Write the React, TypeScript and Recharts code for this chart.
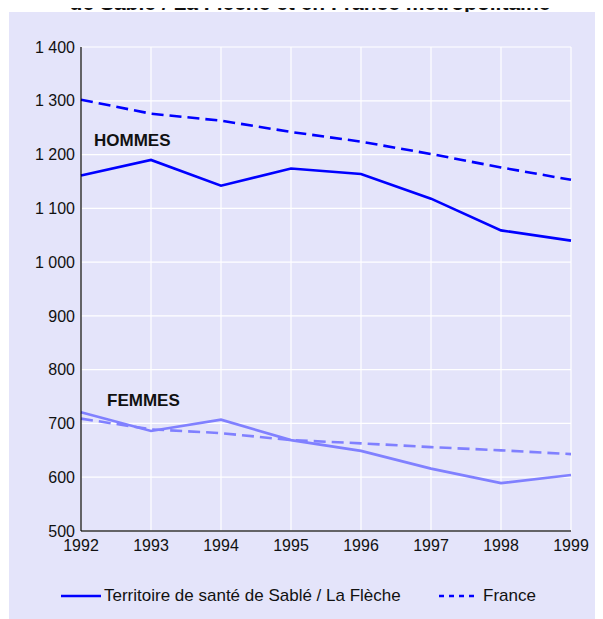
import React from 'react';
import { LineChart, Line, XAxis, YAxis, CartesianGrid, Legend } from 'recharts';

const years = ['1992', '1993', '1994', '1995', '1996', '1997', '1998', '1999'];
const hommesSable = [1161, 1190, 1142, 1174, 1164, 1118, 1059, 1040];
const hommesFrance = [1302, 1276, 1263, 1242, 1224, 1201, 1176, 1153];
const femmesSable = [721, 686, 707, 669, 649, 616, 589, 604];
const femmesFrance = [709, 689, 682, 669, 663, 656, 650, 643];
const yTicks = [500, 600, 700, 800, 900, 1000, 1100, 1200, 1300, 1400];
const legendLabels = ['Territoire de santé de Sablé / La Flèche', 'France'];
const titleText = 'de Sablé / La Flèche et en France métropolitaine';

const data = years.map((y, i) => ({
  year: y,
  hs: hommesSable[i],
  hf: hommesFrance[i],
  fs: femmesSable[i],
  ff: femmesFrance[i],
}));

const FONT = '"Liberation Sans", Arial, sans-serif';
const BLUE = '#0000FF';
const LIGHT = '#8080FF';

const fmt = (v: number) => {
  if (v >= 1000) {
    return `${Math.floor(v / 1000)} ${String(v % 1000).padStart(3, '0')}`;
  }
  return String(v);
};

const LegendContent = () => (
  <div style={{ position: 'relative', height: 20, width: 595, fontFamily: FONT, fontSize: 17, color: '#111' }}>
    <svg style={{ position: 'absolute', left: 53, top: 8 }} width={40} height={4}>
      <line x1={0} y1={2} x2={40} y2={2} stroke={BLUE} strokeWidth={2.5} />
    </svg>
    <span style={{ position: 'absolute', left: 96, top: 0, lineHeight: '20px', whiteSpace: 'nowrap' }}>{legendLabels[0]}</span>
    <svg style={{ position: 'absolute', left: 431, top: 8 }} width={38} height={4}>
      <line x1={0} y1={2} x2={38} y2={2} stroke={BLUE} strokeWidth={2.5} strokeDasharray="5 5" />
    </svg>
    <span style={{ position: 'absolute', left: 475, top: 0, lineHeight: '20px', whiteSpace: 'nowrap' }}>{legendLabels[1]}</span>
  </div>
);

export default function App() {
  return (
    <div style={{ position: 'relative', width: 595, height: 611, fontFamily: FONT }}>
      <div
        style={{
          position: 'absolute',
          left: 0,
          width: 604,
          top: -16,
          height: 21,
          lineHeight: '21px',
          fontSize: 21,
          fontWeight: 'bold',
          color: '#111',
          textAlign: 'center',
          whiteSpace: 'nowrap',
        }}
      >
        {titleText}
      </div>
      <div style={{ position: 'absolute', left: 1, top: 4, right: 0, bottom: 0, background: '#E4E4FA' }} />
      <div style={{ position: 'absolute', left: 0, top: 0 }}>
        <LineChart
          width={595}
          height={611}
          data={data}
          margin={{ top: 39, right: 32, left: 0, bottom: 13 }}
        >
          <CartesianGrid stroke="#FFFFFF" strokeWidth={1.2} />
          <XAxis
            dataKey="year"
            height={55}
            tickSize={0}
            tickMargin={9}
            axisLine={{ stroke: '#333', strokeWidth: 1.5 }}
            tick={{ fontSize: 16, fill: '#111', fontFamily: FONT }}
            interval={0}
          />
          <YAxis
            width={73}
            domain={[500, 1400]}
            ticks={yTicks}
            tickFormatter={fmt}
            tickSize={0}
            tickMargin={6}
            axisLine={{ stroke: '#000', strokeWidth: 1.2 }}
            tick={{ fontSize: 16, fill: '#111', fontFamily: FONT }}
            interval={0}
          />
          <Legend
            verticalAlign="bottom"
            height={20}
            content={LegendContent}
            wrapperStyle={{ left: 0, width: 595 }}
          />
          <Line dataKey="hf" stroke={BLUE} strokeWidth={2.6} strokeDasharray="12 6" dot={false} isAnimationActive={false} />
          <Line dataKey="hs" stroke={BLUE} strokeWidth={2.6} dot={false} isAnimationActive={false} />
          <Line dataKey="ff" stroke={LIGHT} strokeWidth={2.6} strokeDasharray="12 6" dot={false} isAnimationActive={false} />
          <Line dataKey="fs" stroke={LIGHT} strokeWidth={2.6} dot={false} isAnimationActive={false} />
        </LineChart>
      </div>
      <svg
        width={595}
        height={611}
        style={{ position: 'absolute', left: 0, top: 0, overflow: 'visible', pointerEvents: 'none' }}
      >
        <text x={86} y={138} fontFamily={FONT} fontWeight="bold" fontSize={17} fill="#111">HOMMES</text>
        <text x={99} y={398} fontFamily={FONT} fontWeight="bold" fontSize={17} fill="#111">FEMMES</text>
      </svg>
    </div>
  );
}
